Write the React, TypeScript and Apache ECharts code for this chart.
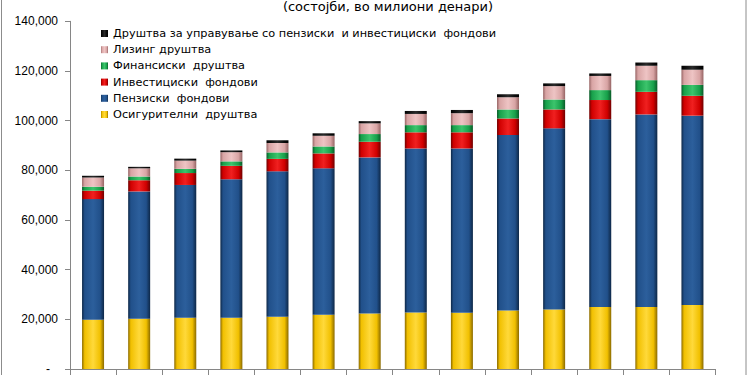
import React, { useEffect, useRef } from "react";
import * as echarts from "echarts";

// values in millions of denars
const categories = ["1", "2", "3", "4", "5", "6", "7", "8", "9", "10", "11", "12", "13", "14"];
const insurance = [19800, 20200, 20600, 20600, 21000, 21800, 22300, 22700, 22600, 23600, 24000, 25000, 25000, 25800];
const pensionFunds = [48600, 51300, 53500, 55800, 58600, 59000, 62900, 66100, 66200, 70600, 72900, 75600, 77500, 76200];
const investmentFunds = [3400, 4500, 4800, 5400, 5000, 6000, 6300, 6500, 6500, 6700, 7600, 7700, 9100, 8000];
const financeCompanies = [1600, 1500, 1700, 1800, 2600, 2800, 3100, 2900, 2900, 3600, 4000, 4000, 4700, 4400];
const leasing = [3700, 3300, 3300, 3700, 3800, 4300, 4300, 4500, 4800, 4900, 5400, 5700, 5800, 6100];
const managementCompanies = [700, 600, 800, 700, 1100, 1000, 900, 1200, 1300, 1200, 1100, 1000, 1300, 1600];

const seriesNames = [
  "Осигурителни  друштва",
  "Пензиски  фондови",
  "Инвестициски  фондови",
  "Финансиски  друштва",
  "Лизинг друштва",
  "Друштва за управување со пензиски  и инвестициски  фондови",
];
const yTicks = [0, 20000, 40000, 60000, 80000, 100000, 120000, 140000];
const title = "(состојби, во милиони денари)";

const palette = [
  { main: "#F1C000", light: "#FFD93A", dark: "#8A6A00" },
  { main: "#21508A", light: "#2C5F9C", dark: "#0D2746" },
  { main: "#D00000", light: "#F02020", dark: "#700000" },
  { main: "#17A04A", light: "#3CC46C", dark: "#0A5A28" },
  { main: "#D8A4A4", light: "#EEC4C4", dark: "#966464" },
  { main: "#0A0A0A", light: "#2A2A2A", dark: "#000000" },
];

function grad(c: { main: string; light: string; dark: string }) {
  return new echarts.graphic.LinearGradient(0, 0, 1, 0, [
    { offset: 0, color: c.dark },
    { offset: 0.12, color: c.main },
    { offset: 0.5, color: c.light },
    { offset: 0.82, color: c.main },
    { offset: 1, color: c.dark },
  ]);
}

export default function App() {
  const ref = useRef<HTMLDivElement>(null);
  useEffect(() => {
    document.body.style.margin = "0";
    if (!ref.current) return;
    const chart = echarts.init(ref.current, null, { renderer: "svg" });
    const data = [insurance, pensionFunds, investmentFunds, financeCompanies, leasing, managementCompanies];
    const series = data.map((d, i) => ({
      name: seriesNames[i],
      type: "bar",
      stack: "total",
      barWidth: 22,
      data: d,
      itemStyle: { color: grad(palette[i]) },
      emphasis: { disabled: true },
    }));
    chart.setOption({
      animation: false,
      backgroundColor: "#ffffff",
      color: palette.map((p) => p.main),
      grid: { left: 70, right: 31.5, top: 21.3, bottom: 6, containLabel: false },
      legend: {
        orient: "vertical",
        left: 101,
        top: 25.5,
        padding: 0,
        itemWidth: 7,
        itemHeight: 7,
        itemGap: 0.2,
        icon: "rect",
        align: "left",
        data: seriesNames.slice().reverse(),
        textStyle: { fontFamily: "DejaVu Sans", fontSize: 11.3, lineHeight: 16, color: "#000" },
      },
      xAxis: {
        type: "category",
        data: categories,
        axisLine: { lineStyle: { color: "#868686" } },
        axisTick: { show: true, length: 8, interval: 0, lineStyle: { color: "#868686" } },
        axisLabel: { show: false },
      },
      yAxis: {
        type: "value",
        min: 0,
        max: 140000,
        interval: 20000,
        splitLine: { show: false },
        axisLine: { show: true, lineStyle: { color: "#868686" } },
        axisTick: { show: true, length: 5, lineStyle: { color: "#868686" } },
        axisLabel: {
          margin: 12,
          color: "#000",
          fontFamily: "Liberation Sans",
          fontSize: 12,
          formatter: (v: number) =>
            v === 0 ? "{d|-}" : yTicks.includes(v) ? v.toLocaleString("en-US") : "",
          rich: { d: { fontFamily: "Liberation Sans", fontSize: 12, color: "#000", padding: [0, 8, 0, 0] } },
        },
      },
      graphic: [
        {
          type: "text",
          x: 388,
          y: 0,
          style: {
            text: title,
            x: 0,
            y: 0,
            fill: "#000",
            font: "13px 'DejaVu Sans'",
            textAlign: "center",
            textVerticalAlign: "top",
          },
        },
        { type: "line", shape: { x1: 1.5, y1: 0, x2: 1.5, y2: 375 }, style: { stroke: "#8c8c8c", lineWidth: 1 } },
        { type: "line", shape: { x1: 746, y1: 0, x2: 746, y2: 375 }, style: { stroke: "#8c8c8c", lineWidth: 1 } },
      ],
      series,
    });
    return () => chart.dispose();
  }, []);
  return <div ref={ref} style={{ width: 747, height: 375 }} />;
}
